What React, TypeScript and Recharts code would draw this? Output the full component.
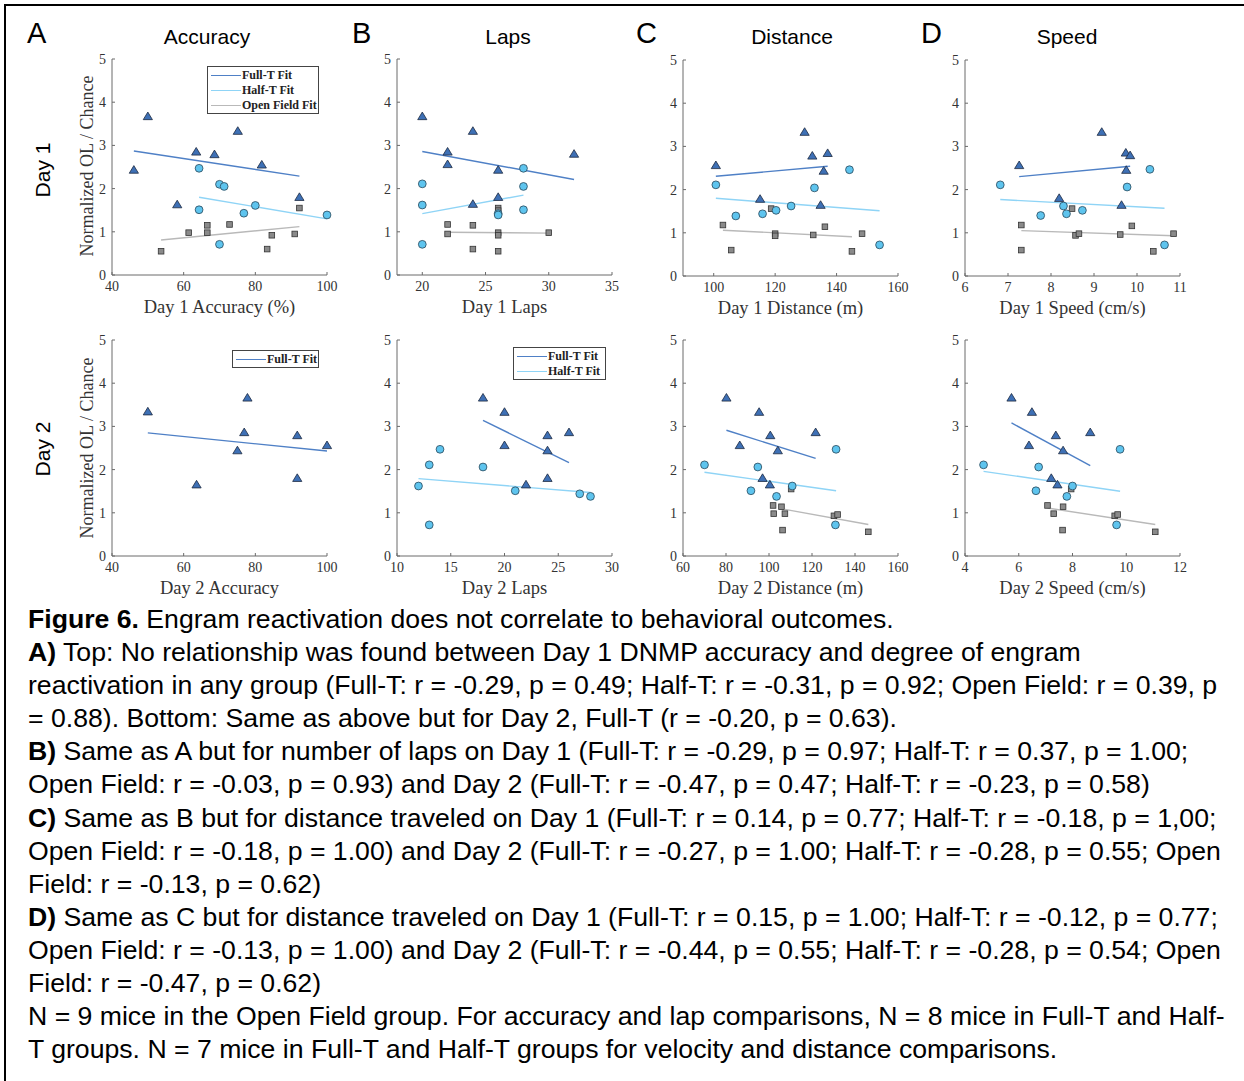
import React from "react";
import { ReferenceLine, Scatter, ScatterChart, XAxis, YAxis } from "recharts";

type Pt = [number, number];
type Seg = [number, number, number, number];

// Day 1 accuracy (%)
const accDay1Full: Pt[] = [[46.1, 2.43], [50, 3.67], [58.2, 1.63], [63.5, 2.85], [68.6, 2.79], [75.1, 3.33], [81.8, 2.55], [92.3, 1.8]];
const accDay1Half: Pt[] = [[64.3, 2.47], [64.3, 1.51], [70, 2.1], [71.3, 2.05], [76.8, 1.43], [80, 1.61], [70, 0.71], [100, 1.39]];
const accDay1Open: Pt[] = [[53.7, 0.55], [61.4, 0.98], [66.6, 1.15], [66.6, 0.98], [72.8, 1.17], [83.3, 0.6], [84.6, 0.92], [91, 0.95], [92.3, 1.55]];
const accDay1Fits: Seg[] = [[46.1, 2.87, 92.3, 2.29], [64.3, 1.8, 100, 1.3], [53.7, 0.81, 92.3, 1.12]];

// Day 1 laps
const lapDay1Full: Pt[] = [[20, 3.67], [22, 2.85], [22, 2.56], [24, 3.33], [24, 1.64], [26, 2.43], [26, 1.8], [32, 2.8]];
const lapDay1Half: Pt[] = [[20, 2.11], [20, 1.62], [20, 0.71], [28, 2.47], [28, 2.05], [28, 1.51], [26, 1.42], [26, 1.39]];
const lapDay1Open: Pt[] = [[22, 1.17], [22, 0.95], [24, 1.15], [24, 0.6], [26, 1.55], [26, 1.49], [26, 0.98], [26, 0.92], [26, 0.55], [30, 0.98]];
const lapDay1Fits: Seg[] = [[20, 2.86, 32, 2.21], [20, 1.42, 28, 1.85], [22, 0.99, 30, 0.97]];

// Day 1 distance (m)
const distDay1Full: Pt[] = [[100.7, 2.56], [115.1, 1.78], [129.6, 3.33], [132.1, 2.78], [135.8, 2.43], [137.1, 2.84], [134.8, 1.64]];
const distDay1Half: Pt[] = [[100.7, 2.11], [107.2, 1.39], [115.9, 1.44], [120.3, 1.52], [125.2, 1.62], [132.8, 2.04], [144.2, 2.46], [154, 0.72]];
const distDay1Open: Pt[] = [[103, 1.18], [105.7, 0.6], [118.7, 1.56], [120, 0.98], [120, 0.93], [132.4, 0.95], [136.2, 1.14], [145, 0.57], [148.3, 0.98]];
const distDay1Fits: Seg[] = [[100.7, 2.31, 137.1, 2.54], [100.7, 1.8, 154, 1.51], [103, 1.06, 145, 0.91]];

// Day 1 speed (cm/s)
const spdDay1Full: Pt[] = [[7.26, 2.56], [8.19, 1.8], [9.18, 3.33], [9.74, 2.85], [9.84, 2.79], [9.75, 2.45], [9.64, 1.64]];
const spdDay1Half: Pt[] = [[6.82, 2.11], [7.76, 1.4], [8.29, 1.62], [8.36, 1.44], [8.73, 1.52], [9.77, 2.06], [10.3, 2.47], [10.64, 0.72]];
const spdDay1Open: Pt[] = [[7.31, 1.18], [7.31, 0.6], [8.49, 1.56], [8.57, 0.94], [8.65, 0.98], [9.61, 0.96], [9.88, 1.16], [10.38, 0.57], [10.85, 0.98]];
const spdDay1Fits: Seg[] = [[7.26, 2.3, 9.84, 2.54], [6.82, 1.77, 10.64, 1.57], [7.31, 1.05, 10.85, 0.93]];

// Day 2 accuracy
const accDay2Full: Pt[] = [[50, 3.34], [63.6, 1.65], [75, 2.44], [76.9, 2.86], [77.8, 3.66], [91.7, 2.79], [91.7, 1.8], [100, 2.56]];
const accDay2Fits: Seg[] = [[50, 2.85, 100, 2.43]];

// Day 2 laps
const lapDay2Full: Pt[] = [[18, 3.66], [20, 3.33], [20, 2.56], [22, 1.65], [24, 2.79], [24, 2.44], [24, 1.8], [26, 2.86]];
const lapDay2Half: Pt[] = [[12, 1.62], [13, 2.11], [13, 0.72], [14, 2.47], [18, 2.06], [21, 1.51], [27, 1.44], [28, 1.38]];
const lapDay2Fits: Seg[] = [[18, 3.14, 26, 2.16], [12, 1.79, 28, 1.47]];

// Day 2 distance (m)
const distDay2Full: Pt[] = [[80.2, 3.66], [95.4, 3.33], [86.4, 2.56], [100.6, 2.79], [104.1, 2.44], [97, 1.8], [100.4, 1.65], [121.7, 2.86]];
const distDay2Half: Pt[] = [[70, 2.11], [94.8, 2.06], [91.6, 1.51], [110.8, 1.62], [103.5, 1.38], [131.2, 2.47], [130.9, 0.72]];
const distDay2Open: Pt[] = [[110.3, 1.55], [101.9, 1.17], [102.2, 0.98], [105.8, 1.14], [107.4, 0.98], [106.3, 0.6], [130.2, 0.93], [131.9, 0.96], [146.2, 0.56]];
const distDay2Fits: Seg[] = [[80.2, 2.91, 121.7, 2.26], [70, 1.94, 131.2, 1.51], [107.4, 1.08, 146.2, 0.73]];

// Day 2 speed (cm/s)
const spdDay2Full: Pt[] = [[5.73, 3.66], [6.49, 3.33], [6.38, 2.56], [7.38, 2.79], [7.65, 2.44], [7.21, 1.8], [7.44, 1.65], [8.66, 2.86]];
const spdDay2Half: Pt[] = [[4.69, 2.11], [6.74, 2.06], [6.64, 1.51], [8.0, 1.62], [7.79, 1.38], [9.77, 2.47], [9.64, 0.72]];
const spdDay2Open: Pt[] = [[7.95, 1.55], [7.07, 1.17], [7.3, 0.98], [7.65, 1.14], [7.63, 0.6], [9.57, 0.93], [9.68, 0.96], [11.08, 0.56]];
const spdDay2Fits: Seg[] = [[5.73, 3.08, 8.66, 2.09], [4.69, 1.96, 9.77, 1.5], [7.07, 1.11, 11.08, 0.73]];

const yTicks = [0, 1, 2, 3, 4, 5];
const columnTitles = ["Accuracy", "Laps", "Distance", "Speed"];
const columnLetters = ["A", "B", "C", "D"];
const legendNames = ["Full-T Fit", "Half-T Fit", "Open Field Fit"];

const FIT_COLORS = ["#4f80c6", "#8fd4f6", "#b9b9b9"];
const AXIS = "#6a6a6a";
const TICK_TEXT = "#333";
const SERIF = "'Liberation Serif', 'Times New Roman', serif";
const SANS = "'Liberation Sans', Arial, sans-serif";

const toData = (pts: Pt[]) => pts.map(([x, y]) => ({ x, y }));

const Tri = (p: any) => {
  const { cx, cy } = p;
  return (
    <polygon
      points={`${cx},${cy - 4.4} ${cx - 4.6},${cy + 3.2} ${cx + 4.6},${cy + 3.2}`}
      fill="#3e70b5"
      stroke="#1d2a40"
      strokeWidth={0.8}
    />
  );
};
const Circ = (p: any) => <circle cx={p.cx} cy={p.cy} r={3.9} fill="#5ec4ee" stroke="#28485a" strokeWidth={0.8} />;
const Sq = (p: any) => (
  <rect x={p.cx - 2.8} y={p.cy - 2.8} width={5.6} height={5.6} fill="#8a8a8a" stroke="#333" strokeWidth={0.8} />
);

const XTick = (p: any) => {
  const { x, y, payload } = p;
  return (
    <g>
      <line x1={x} x2={x} y1={y - 6} y2={y - 9} stroke={AXIS} strokeWidth={1} />
      <text x={x} y={y} dy="0.71em" textAnchor="middle" fontSize={14} fontFamily={SERIF} fill={TICK_TEXT}>
        {payload.value}
      </text>
    </g>
  );
};
const YTick = (p: any) => {
  const { x, y, payload } = p;
  return (
    <g>
      <line x1={x + 6} x2={x + 9} y1={y} y2={y} stroke={AXIS} strokeWidth={1} />
      <text x={x} y={y} dy="0.35em" textAnchor="end" fontSize={14} fontFamily={SERIF} fill={TICK_TEXT}>
        {payload.value}
      </text>
    </g>
  );
};

interface Panel {
  left: number;
  top: number;
  domain: [number, number];
  ticks: number[];
  xLabel: string;
  full: Pt[];
  half?: Pt[];
  open?: Pt[];
  fits: Seg[];
  legend?: { left: number; top: number; width: number; rows: number };
}

const panels: Panel[] = [
  { left: 112, top: 59, domain: [40, 100], ticks: [40, 60, 80, 100], xLabel: "Day 1 Accuracy (%)", full: accDay1Full, half: accDay1Half, open: accDay1Open, fits: accDay1Fits, legend: { left: 207, top: 66, width: 112, rows: 3 } },
  { left: 397, top: 59, domain: [18, 35], ticks: [20, 25, 30, 35], xLabel: "Day 1 Laps", full: lapDay1Full, half: lapDay1Half, open: lapDay1Open, fits: lapDay1Fits },
  { left: 683, top: 60, domain: [90, 160], ticks: [100, 120, 140, 160], xLabel: "Day 1 Distance (m)", full: distDay1Full, half: distDay1Half, open: distDay1Open, fits: distDay1Fits },
  { left: 965, top: 60, domain: [6, 11], ticks: [6, 7, 8, 9, 10, 11], xLabel: "Day 1 Speed (cm/s)", full: spdDay1Full, half: spdDay1Half, open: spdDay1Open, fits: spdDay1Fits },
  { left: 112, top: 340, domain: [40, 100], ticks: [40, 60, 80, 100], xLabel: "Day 2 Accuracy", full: accDay2Full, fits: accDay2Fits, legend: { left: 232, top: 350, width: 87, rows: 1 } },
  { left: 397, top: 340, domain: [10, 30], ticks: [10, 15, 20, 25, 30], xLabel: "Day 2 Laps", full: lapDay2Full, half: lapDay2Half, fits: lapDay2Fits, legend: { left: 513, top: 347, width: 93, rows: 2 } },
  { left: 683, top: 340, domain: [60, 160], ticks: [60, 80, 100, 120, 140, 160], xLabel: "Day 2 Distance (m)", full: distDay2Full, half: distDay2Half, open: distDay2Open, fits: distDay2Fits },
  { left: 965, top: 340, domain: [4, 12], ticks: [4, 6, 8, 10, 12], xLabel: "Day 2 Speed (cm/s)", full: spdDay2Full, half: spdDay2Half, open: spdDay2Open, fits: spdDay2Fits },
];

const captionLines: [string, string][] = [
  ["Figure 6.", " Engram reactivation does not correlate to behavioral outcomes."],
  ["A)", " Top: No relationship was found between Day 1 DNMP accuracy and degree of engram"],
  ["", "reactivation in any group (Full-T: r = -0.29, p = 0.49; Half-T: r = -0.31, p = 0.92; Open Field: r = 0.39, p"],
  ["", "= 0.88). Bottom: Same as above but for Day 2, Full-T (r = -0.20, p = 0.63)."],
  ["B)", " Same as A but for number of laps on Day 1 (Full-T: r = -0.29, p = 0.97; Half-T: r = 0.37, p = 1.00;"],
  ["", "Open Field: r = -0.03, p = 0.93) and Day 2 (Full-T: r = -0.47, p = 0.47; Half-T: r = -0.23, p = 0.58)"],
  ["C)", " Same as B but for distance traveled on Day 1 (Full-T: r = 0.14, p = 0.77; Half-T: r = -0.18, p = 1,00;"],
  ["", "Open Field: r = -0.18, p = 1.00) and Day 2 (Full-T: r = -0.27, p = 1.00; Half-T: r = -0.28, p = 0.55; Open"],
  ["", "Field: r = -0.13, p = 0.62)"],
  ["D)", " Same as C but for distance traveled on Day 1 (Full-T: r = 0.15, p = 1.00; Half-T: r = -0.12, p = 0.77;"],
  ["", "Open Field: r = -0.13, p = 1.00) and Day 2 (Full-T: r = -0.44, p = 0.55; Half-T: r = -0.28, p = 0.54; Open"],
  ["", "Field: r = -0.47, p = 0.62)"],
  ["", "N = 9 mice in the Open Field group. For accuracy and lap comparisons, N = 8 mice in Full-T and Half-"],
  ["", "T groups. N = 7 mice in Full-T and Half-T groups for velocity and distance comparisons."],
];

function FitLegend({ left, top, width, rows }: { left: number; top: number; width: number; rows: number }) {
  return (
    <div
      style={{
        position: "absolute",
        left,
        top,
        width,
        height: rows * 15 + 3,
        border: "1px solid #444",
        background: "#fff",
        boxSizing: "border-box",
        fontFamily: SERIF,
        fontSize: 12,
        fontWeight: 700,
        color: "#222",
      }}
    >
      {legendNames.slice(0, rows).map((name, i) => (
        <div key={name} style={{ position: "absolute", left: 3, top: 1 + i * 15, height: 15, display: "flex", alignItems: "center", whiteSpace: "nowrap" }}>
          <span style={{ display: "inline-block", width: 30, height: 1.5, background: FIT_COLORS[i], marginRight: 1 }} />
          {name}
        </div>
      ))}
    </div>
  );
}

function PanelChart({ p }: { p: Panel }) {
  const h = 10 + 216 + 50;
  return (
    <div style={{ position: "absolute", left: p.left - 40, top: p.top - 10 }}>
      <ScatterChart width={275} height={h} margin={{ top: 10, right: 20, bottom: 0, left: 0 }}>
        <XAxis
          type="number"
          dataKey="x"
          domain={p.domain}
          ticks={p.ticks}
          height={50}
          tickSize={0}
          tickMargin={6}
          tickLine={false}
          tick={<XTick />}
          stroke={AXIS}
          label={{ value: p.xLabel, position: "insideBottom", offset: 12, fontFamily: SERIF, fontSize: 18.5, fill: "#333" }}
        />
        <YAxis
          type="number"
          dataKey="y"
          domain={[0, 5]}
          ticks={yTicks}
          width={40}
          tickSize={0}
          tickMargin={6}
          tickLine={false}
          tick={<YTick />}
          stroke={AXIS}
        />
        {p.fits.map((f, i) => (
          <ReferenceLine
            key={i}
            segment={[{ x: f[0], y: f[1] }, { x: f[2], y: f[3] }]}
            stroke={FIT_COLORS[i]}
            strokeWidth={1.4}
            ifOverflow="visible"
          />
        ))}
        {p.open && <Scatter data={toData(p.open)} shape={Sq} isAnimationActive={false} />}
        {p.half && <Scatter data={toData(p.half)} shape={Circ} isAnimationActive={false} />}
        <Scatter data={toData(p.full)} shape={Tri} isAnimationActive={false} />
      </ScatterChart>
    </div>
  );
}

export default function App() {
  return (
    <div style={{ position: "absolute", left: 0, top: 0, width: 1244, height: 1081, overflow: "hidden", background: "#fff" }}>
      <div style={{ position: "absolute", left: 4, top: 4, width: 1300, height: 1200, borderLeft: "2px solid #000", borderTop: "2px solid #000" }} />

      {columnLetters.map((l, i) => (
        <div key={l} style={{ position: "absolute", left: [27, 352, 636, 921][i], top: 17, fontFamily: SANS, fontSize: 29, color: "#000" }}>
          {l}
        </div>
      ))}
      {columnTitles.map((t, i) => (
        <div key={t} style={{ position: "absolute", left: [207, 508, 792, 1067][i] - 80, width: 160, top: 25, textAlign: "center", fontFamily: SANS, fontSize: 21, color: "#000" }}>
          {t}
        </div>
      ))}
      {["Day 1", "Day 2"].map((d, i) => (
        <div
          key={d}
          style={{ position: "absolute", left: 43 - 50, top: [170, 449][i] - 13, width: 100, height: 26, lineHeight: "26px", textAlign: "center", transform: "rotate(-90deg)", fontFamily: SANS, fontSize: 21, color: "#000" }}
        >
          {d}
        </div>
      ))}
      {[166, 448].map((cy) => (
        <div
          key={cy}
          style={{ position: "absolute", left: 87 - 120, top: cy - 11, width: 240, height: 22, lineHeight: "22px", textAlign: "center", transform: "rotate(-90deg)", fontFamily: SERIF, fontSize: 18, color: "#333", whiteSpace: "nowrap" }}
        >
          Normalized OL / Chance
        </div>
      ))}

      {panels.map((p, i) => (
        <PanelChart key={i} p={p} />
      ))}
      {panels.map((p, i) => (p.legend ? <FitLegend key={`lg${i}`} {...p.legend} /> : null))}

      <div
        style={{
          position: "absolute",
          left: 28,
          top: 603,
          fontFamily: SANS,
          fontSize: 25,
          lineHeight: "33.1px",
          color: "#000",
          whiteSpace: "nowrap",
          transform: "scaleX(1.065)",
          transformOrigin: "0 0",
        }}
      >
        {captionLines.map(([b, t], i) => (
          <div key={i}>
            {b && <b>{b}</b>}
            {t}
          </div>
        ))}
      </div>
    </div>
  );
}
